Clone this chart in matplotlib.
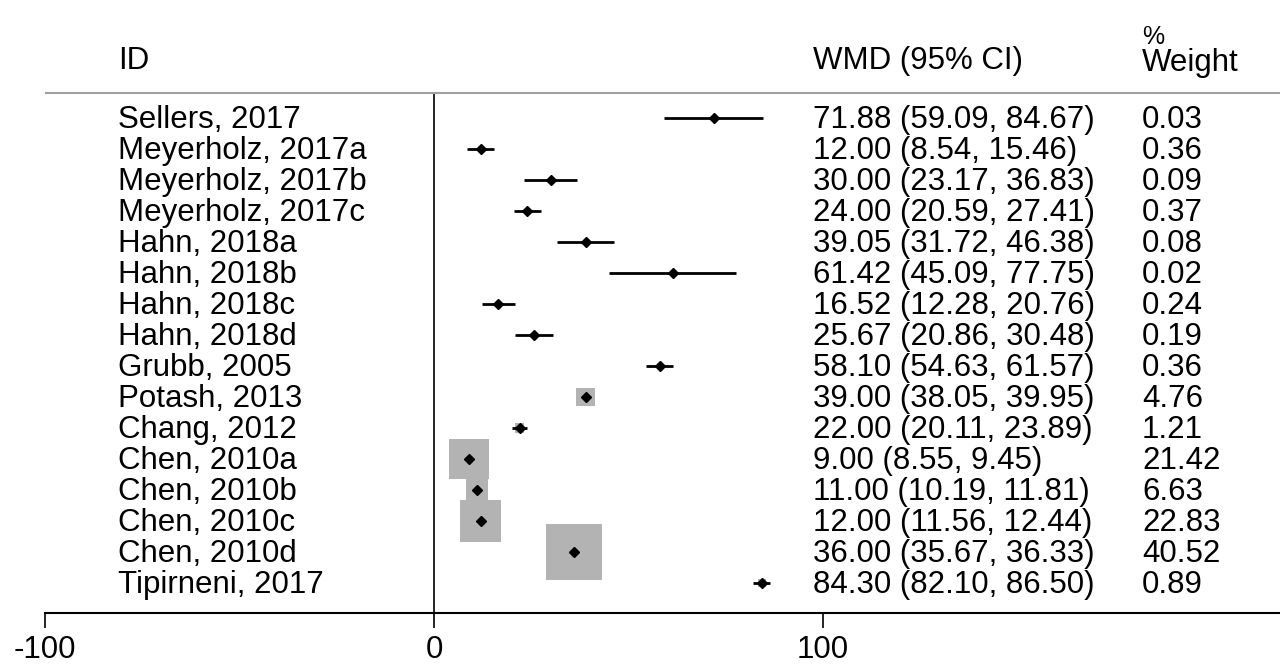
import numpy as np
import matplotlib.pyplot as plt

# study data (WMD, 95% CI, % weight)
studies = ['Sellers, 2017', 'Meyerholz, 2017a', 'Meyerholz, 2017b', 'Meyerholz, 2017c',
           'Hahn, 2018a', 'Hahn, 2018b', 'Hahn, 2018c', 'Hahn, 2018d', 'Grubb, 2005',
           'Potash, 2013', 'Chang, 2012', 'Chen, 2010a', 'Chen, 2010b', 'Chen, 2010c',
           'Chen, 2010d', 'Tipirneni, 2017']
wmd = [71.88, 12.00, 30.00, 24.00, 39.05, 61.42, 16.52, 25.67, 58.10,
       39.00, 22.00, 9.00, 11.00, 12.00, 36.00, 84.30]
lower = [59.09, 8.54, 23.17, 20.59, 31.72, 45.09, 12.28, 20.86, 54.63,
         38.05, 20.11, 8.55, 10.19, 11.56, 35.67, 82.10]
upper = [84.67, 15.46, 36.83, 27.41, 46.38, 77.75, 20.76, 30.48, 61.57,
         39.95, 23.89, 9.45, 11.81, 12.44, 36.33, 86.50]
weight = [0.03, 0.36, 0.09, 0.37, 0.08, 0.02, 0.24, 0.19, 0.36,
          4.76, 1.21, 21.42, 6.63, 22.83, 40.52, 0.89]
xticks = [-100, 0, 100]

plt.rcParams['font.family'] = ['Liberation Sans', 'DejaVu Sans']
fs = 22.5

fig = plt.figure(figsize=(12.8, 6.66), dpi=100)
# axis line sits at y=613px, x axis runs from 45px to the right edge
ax = fig.add_axes([45 / 1280, 53 / 666, 1235 / 1280, 613 / 666])
ax.set_xlim(-100, 217.5)
row_h = 31.0
ax.set_ylim((613 - 118) / row_h, -118 / row_h)

rows = np.arange(len(studies))

# weight boxes (area proportional to weight)
side_pt = 0.72 * 8.7 * np.sqrt(weight)
ax.scatter(wmd, rows, s=side_pt ** 2, marker='s', color='#b3b3b3', linewidths=0, zorder=1)

# confidence intervals
ax.hlines(rows, lower, upper, color='black', lw=2.0, zorder=2)
ax.plot(wmd, rows, linestyle='none', marker='D', ms=5.5, color='black', zorder=3)

# line of no effect and header rule
top_rule = (93 - 118) / row_h
ax.plot([0, 0], [top_rule, (613 - 118) / row_h], color='black', lw=1.2, clip_on=False)
ax.axhline(top_rule, color='#a0a0a0', lw=1.5)

# text columns
x_id = (118 - 434) / 3.89
x_wmd = (813 - 434) / 3.89
x_w = (1142 - 434) / 3.89
base_off = 10 / row_h
for i in rows:
    ax.text(x_id, i + base_off, studies[i], fontsize=fs, va='baseline', ha='left')
    ax.text(x_wmd, i + base_off, '%.2f (%.2f, %.2f)' % (wmd[i], lower[i], upper[i]),
            fontsize=fs, va='baseline', ha='left')
    ax.text(x_w, i + base_off, '%.2f' % weight[i], fontsize=fs, va='baseline', ha='left')

hdr = (69 - 118) / row_h
ax.text(x_id, hdr, 'ID', fontsize=fs, va='baseline', ha='left')
ax.text(x_wmd, hdr, 'WMD (95% CI)', fontsize=fs, va='baseline', ha='left')
ax.text(x_w, (71 - 118) / row_h, 'Weight', fontsize=fs, va='baseline', ha='left')
ax.text(x_w, (44 - 118) / row_h, '%', fontsize=fs * 0.8, va='baseline', ha='left')

for s in ['top', 'left', 'right']:
    ax.spines[s].set_visible(False)
ax.spines['bottom'].set_linewidth(1.5)
ax.set_yticks([])
ax.set_xticks(xticks)
ax.set_xticklabels([str(t) for t in xticks])
ax.tick_params(axis='x', length=11, width=1.2, pad=5, labelsize=fs)
ax.patch.set_visible(False)

fig.savefig('out.png', dpi=100, facecolor='white')
